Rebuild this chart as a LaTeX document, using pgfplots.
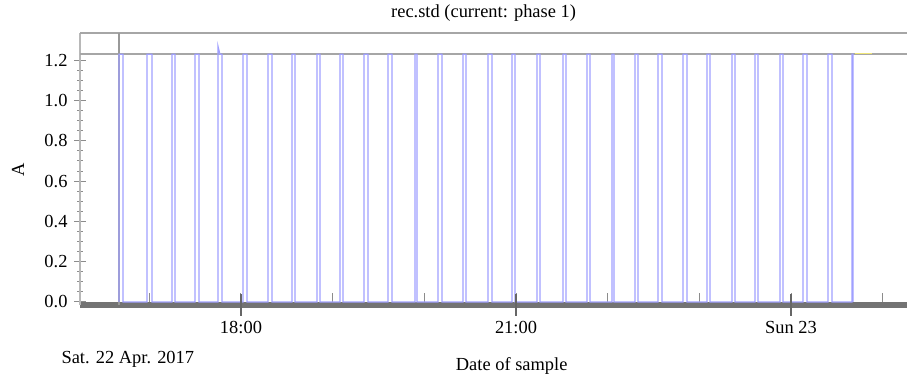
\documentclass[border=0pt]{standalone}
\usepackage{pgfplots}
\pgfplotsset{compat=1.18}
\usepackage{fontspec}
\setmainfont{Liberation Serif}
\definecolor{sig}{RGB}{160,160,255}
\definecolor{tail}{RGB}{240,230,120}
\newcommand{\lf}{\fontsize{18.5}{22}\selectfont}
\begin{document}
\begin{tikzpicture}
\begin{axis}[
  at={(80bp,74bp)}, anchor=south west,
  scale only axis, width=827bp, height=272bp,
  xmin=16.244, xmax=25.265, ymin=-0.015, ymax=1.335,
  axis x line=bottom, axis y line=left,
  axis line style={-},
  x axis line style={line width=6bp, color=black!55},
  y axis line style={line width=1.5bp, color=black!28},
  ytick={0,0.2,...,1.2}, minor y tick num=3,
  ytick align=center,
  y tick style={black!45, line width=1bp},
  major tick length=12bp, minor tick length=6bp,
  yticklabel style={/pgf/number format/fixed, /pgf/number format/fixed zerofill, /pgf/number format/precision=1, font=\lf, xshift=-3bp},
  /pgf/number format/assume math mode=true,
  xtick={17,18,...,25}, xticklabels={},
  xtick align=inside,
  x tick style={black!45, line width=1bp},
  title={rec.std (current: phase 1)},
  title style={font=\lf, at={(0.488,1)}, anchor=center, yshift=14bp},
  xlabel={Date of sample},
  xlabel style={font=\lf, at={(0.522,0)}, anchor=center, yshift=-61bp},
  ylabel={A},
  ylabel style={font=\lf, at={(0,0.498)}, anchor=center, yshift=62bp},
  clip=true,
]
% reference line and frame
\draw[black!35, line width=1.5bp] (rel axis cs:0,1) -- (rel axis cs:1,1);
\draw[black!35, line width=1.5bp] (axis cs:16.244,1.23) -- (axis cs:25.265,1.23);
\draw[black!40, line width=1.5bp] (axis cs:16.669,-0.015) -- (axis cs:16.669,1.335);
\addplot[sig, line width=1.2bp] coordinates {
(16.669,0)(16.669,1.23)(16.713,1.23)(16.713,0)
(16.975,0)(16.975,1.23)(17.029,1.23)(17.029,0)
(17.247,0)(17.247,1.23)(17.280,1.23)(17.280,0)
(17.498,0)(17.498,1.23)(17.542,1.23)(17.542,0)
(17.749,0)(17.749,1.27)(17.770,1.23)(17.793,1.23)(17.793,0)
(18.022,0)(18.022,1.23)(18.065,1.23)(18.065,0)
(18.295,0)(18.295,1.23)(18.338,1.23)(18.338,0)
(18.556,0)(18.556,1.23)(18.589,1.23)(18.589,0)
(18.829,0)(18.829,1.23)(18.862,1.23)(18.862,0)
(19.080,0)(19.080,1.23)(19.113,1.23)(19.113,0)
(19.342,0)(19.342,1.23)(19.385,1.23)(19.385,0)
(19.604,0)(19.604,1.23)(19.647,1.23)(19.647,0)
(19.898,0)(19.898,1.23)(19.920,1.23)(19.920,0)
(20.149,0)(20.149,1.23)(20.193,1.23)(20.193,0)
(20.422,0)(20.422,1.23)(20.454,1.23)(20.454,0)
(20.694,0)(20.694,1.23)(20.738,1.23)(20.738,0)
(20.956,0)(20.956,1.23)(20.989,1.23)(20.989,0)
(21.229,0)(21.229,1.23)(21.262,1.23)(21.262,0)
(21.513,0)(21.513,1.23)(21.545,1.23)(21.545,0)
(21.774,0)(21.774,1.23)(21.807,1.23)(21.807,0)
(22.047,0)(22.047,1.23)(22.069,1.23)(22.069,0)
(22.298,0)(22.298,1.23)(22.331,1.23)(22.331,0)
(22.549,0)(22.549,1.23)(22.593,1.23)(22.593,0)
(22.822,0)(22.822,1.23)(22.865,1.23)(22.865,0)
(23.083,0)(23.083,1.23)(23.116,1.23)(23.116,0)
(23.356,0)(23.356,1.23)(23.389,1.23)(23.389,0)
(23.607,0)(23.607,1.23)(23.640,1.23)(23.640,0)
(23.880,0)(23.880,1.23)(23.913,1.23)(23.913,0)
(24.131,0)(24.131,1.23)(24.174,1.23)(24.174,0)
(24.404,0)(24.404,1.23)(24.447,1.23)(24.447,0)
(24.665,0)(24.665,1.23)(24.676,1.23)(24.676,0)
};
\addplot[tail, line width=1.5bp] coordinates {(24.70,1.232)(24.88,1.232)};
\end{axis}
% second axis: labelled major x ticks only
\begin{axis}[
  at={(80bp,74bp)}, anchor=south west,
  scale only axis, width=827bp, height=272bp,
  xmin=16.244, xmax=25.265, ymin=-0.015, ymax=1.335,
  axis x line=bottom, axis y line=none,
  x axis line style={draw=none, -},
  xtick={18,21,24},
  xticklabels={18:00,21:00,Sun 23},
  xtick align=center,
  major tick length=21bp,
  x tick style={black!60, line width=1.2bp},
  xticklabel style={font=\lf, yshift=-2bp},
]
\end{axis}
\node[font=\lf, anchor=west] at (58bp,20bp) {Sat. 22 Apr. 2017};
\pgfresetboundingbox
\useasboundingbox (0,0) rectangle (907bp,379bp);
\end{tikzpicture}
\end{document}
